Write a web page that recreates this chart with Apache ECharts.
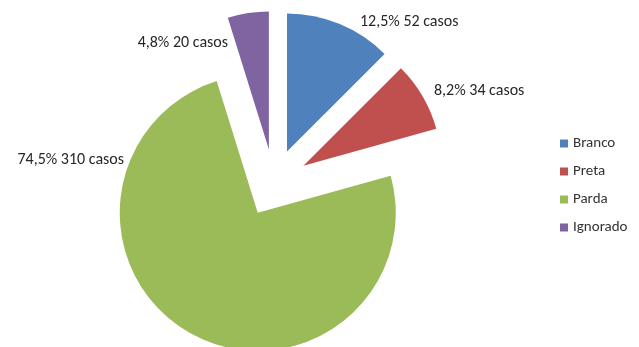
<!DOCTYPE html>
<html>
<head>
<meta charset="utf-8">
<script src="https://cdn.jsdelivr.net/npm/echarts@6/dist/echarts.min.js"></script>
<style>
  html, body { margin: 0; padding: 0; background: #fff; }
  #chart { width: 639px; height: 347px; }
</style>
</head>
<body>
<div id="chart"></div>
<script>
// Casos por raça/cor
const categories = ['Branco', 'Preta', 'Parda', 'Ignorado'];
const casos = [52, 34, 310, 20];
const percentLabels = ['12,5%', '8,2%', '74,5%', '4,8%'];

const colors = ['#4F81BD', '#C0504D', '#9BBB59', '#8064A2'];
const FONT = 'Carlito, "Liberation Sans Narrow", Lato, sans-serif';

// where each slice label sits: [anchor x, middle y, text alignment at the anchor]
const labelAnchors = [
  [360, 22, 'left'],
  [434, 91, 'left'],
  [124, 160, 'right'],
  [228, 43, 'right']
];

const sliceLabels = categories.map((name, i) => ({
  type: 'text',
  x: labelAnchors[i][0],
  y: labelAnchors[i][1],
  silent: true,
  style: {
    text: percentLabels[i] + ' ' + casos[i] + ' casos',
    font: '16px ' + FONT,
    fill: '#262626',
    align: labelAnchors[i][2],
    verticalAlign: 'middle'
  }
}));

const chart = echarts.init(document.getElementById('chart'), null, { renderer: 'canvas' });

chart.setOption({
  animation: false,
  color: colors,
  legend: {
    orient: 'vertical',
    left: 555,
    top: 131,
    icon: 'rect',
    itemWidth: 8,
    itemHeight: 8,
    itemGap: 13,
    selectedMode: false,
    textStyle: { fontFamily: FONT, fontSize: 15, color: '#333' },
    data: categories
  },
  graphic: sliceLabels,
  series: [{
    type: 'pie',
    center: [274, 183],
    radius: 138,
    startAngle: 90,
    clockwise: true,
    selectedMode: 'multiple',
    selectedOffset: 34,
    itemStyle: { borderWidth: 0 },
    select: { itemStyle: { borderWidth: 0 } },
    emphasis: { disabled: true },
    label: { show: false },
    labelLine: { show: false },
    data: categories.map((name, i) => ({ name, value: casos[i], selected: true }))
  }]
});
</script>
</body>
</html>
